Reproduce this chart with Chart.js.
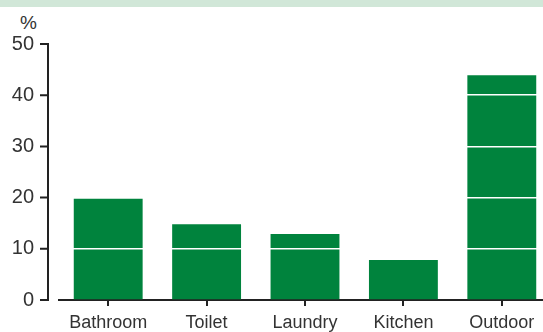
<!DOCTYPE html>
<html>
<head>
<meta charset="utf-8">
<script src="https://cdn.jsdelivr.net/npm/chart.js@4.4.1/dist/chart.umd.min.js"></script>
<style>
    html, body { margin: 0; padding: 0; width: 543px; height: 332px; overflow: hidden; background: #fff; }
    .banda { position: absolute; left: 0; top: 0; width: 543px; height: 7px; background: #d1e7d8; }
    .unidade { position: absolute; left: 20px; top: 12px; font: 19px "Liberation Sans", Arial, sans-serif; color: #333; }
    .grafico { position: absolute; left: 0; top: 0; width: 551px; height: 332px; }
</style>
</head>
<body>
<div class="banda"></div>
<div class="unidade">%</div>
<div class="grafico"><canvas id="grafico-uso"></canvas></div>
<script>
// Uso de água por local da casa (%)
const locais = ["Bathroom", "Toilet", "Laundry", "Kitchen", "Outdoor"];
const percentuais = [19.8, 14.8, 12.9, 7.8, 43.9];
const ticksY = [0, 10, 20, 30, 40, 50];

const verde = "#00833d";
const tinta = "#222";

// eixo Y desenhado à parte, um pouco afastado da linha de base
const eixoY = {
    id: "eixoY",
    afterDraw(chart) {
        const y = chart.scales.y;
        const ctx = chart.ctx;
        const x = chart.chartArea.left - 11;
        ctx.save();
        ctx.strokeStyle = tinta;
        ctx.lineWidth = 2;
        ctx.beginPath();
        ctx.moveTo(x, y.getPixelForValue(ticksY[ticksY.length - 1]) - 1);
        ctx.lineTo(x, y.getPixelForValue(0) + 1);
        ticksY.forEach(v => {
            const py = y.getPixelForValue(v);
            ctx.moveTo(x - 8, py);
            ctx.lineTo(x, py);
        });
        ctx.stroke();
        ctx.restore();
    }
};

new Chart(document.getElementById("grafico-uso"), {
    type: "bar",
    data: {
        labels: locais,
        datasets: [{
            data: percentuais,
            backgroundColor: verde,
            borderWidth: 0,
            barPercentage: 0.7,
            categoryPercentage: 1
        }]
    },
    options: {
        responsive: true,
        maintainAspectRatio: false,
        animation: false,
        layout: { padding: { top: 44, left: 0, right: 0, bottom: 0 } },
        plugins: {
            legend: { display: false },
            tooltip: { enabled: false }
        },
        scales: {
            x: {
                offset: true,
                grid: {
                    offset: false,
                    drawOnChartArea: false,
                    drawTicks: true,
                    tickLength: 6,
                    color: tinta,
                    lineWidth: 2
                },
                border: { display: true, color: tinta, width: 2 },
                ticks: {
                    color: "#333",
                    padding: 6,
                    font: { family: "'Liberation Sans', Arial, sans-serif", size: 18 }
                },
                afterFit: s => { s.height = 32; }
            },
            y: {
                min: 0,
                max: 50,
                afterBuildTicks: s => { s.ticks = ticksY.map(v => ({ value: v })); },
                grid: {
                    z: 1,
                    drawTicks: false,
                    lineWidth: 1.5,
                    color: c => (c.tick && c.tick.value > 0 ? "#ffffff" : "rgba(0,0,0,0)")
                },
                border: { display: false },
                ticks: {
                    color: "#333",
                    padding: 25,
                    font: { family: "'Liberation Sans', Arial, sans-serif", size: 20 }
                },
                afterFit: s => {
                    s.width = 59;
                    s.paddingTop = 0;
                    s.paddingBottom = 0;
                }
            }
        }
    },
    plugins: [eixoY]
});
</script>
</body>
</html>
